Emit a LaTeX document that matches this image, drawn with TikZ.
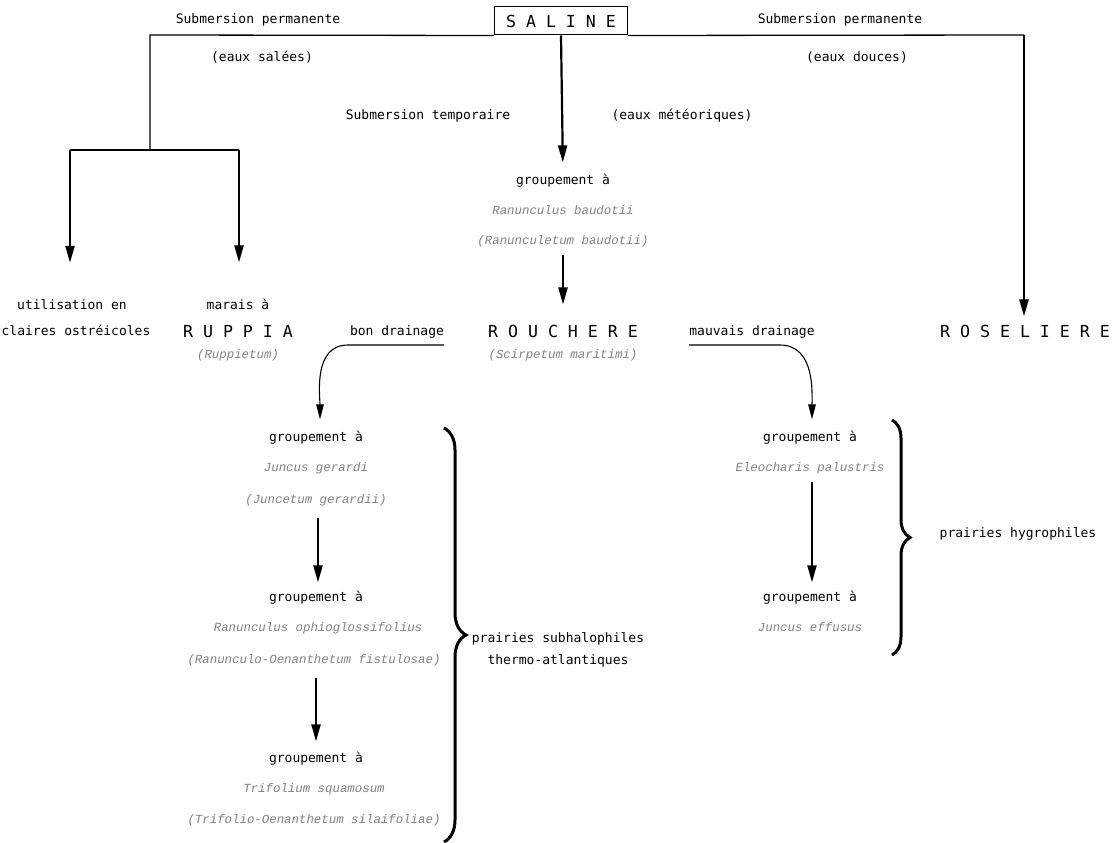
\documentclass[tikz,border=0pt]{standalone}
\usepackage{fontspec}
\usetikzlibrary{arrows.meta,decorations.pathreplacing}
\newfontfamily\typefont{DejaVu Sans Mono}
\newfontfamily\namefont{Liberation Mono}
\definecolor{namegray}{gray}{0.5}

\begin{document}
\begin{tikzpicture}[x=1pt, y=-1pt,
    txt/.style={anchor=base, inner sep=0pt, font=\typefont\fontsize{13}{15}\selectfont},
    taxon/.style={anchor=base, inner sep=0pt, text=namegray, font=\namefont\itshape\fontsize{12.4}{14}\selectfont},
    unit/.style={anchor=base, inner sep=0pt, font=\typefont\fontsize{16.6}{18}\selectfont},
    thinline/.style={line width=1.3pt},
    flow/.style={line width=2.2pt, -{Triangle[length=17pt,width=9pt]}},
    drain/.style={line width=1.1pt, -{Triangle[length=15pt,width=7.5pt]}},
    bracket/.style={decorate, decoration={brace, amplitude=22pt}, line width=3pt}]
  \useasboundingbox (0,0) rectangle (1112,843);
  % top of the scheme
  \node[draw, line width=1pt, minimum width=133pt, minimum height=28pt, inner sep=0pt,
        font=\typefont\fontsize{16.6}{18}\selectfont] (saline) at (561,21) {S A L I N E};
  \node[txt] (subl) at (258,24) {Submersion permanente};
  \node[txt] (salees) at (262,62) {(eaux salées)};
  \node[txt] (subr) at (840,24) {Submersion permanente};
  \node[txt] (douces) at (857,62) {(eaux douces)};
  \node[txt] (temp) at (428,120) {Submersion temporaire};
  \node[txt] (meteo) at (682,120) {(eaux météoriques)};
  \coordinate (jl) at (150,35);
  \coordinate (jr) at (1024,35);
  \coordinate (bl) at (150,150);
  \coordinate (bll) at (70,150);
  \coordinate (blr) at (239,150);
  % middle row
  \node[txt] (grpa) at (563,184) {groupement à};
  \node[taxon] (ranb) at (563,214) {Ranunculus baudotii};
  \node[taxon] (ranbass) at (563,244) {(Ranunculetum baudotii)};
  \node[txt] (util) at (72,309) {utilisation en};
  \node[txt] (claires) at (76,335) {claires ostréicoles};
  \node[txt] (marais) at (238,309) {marais à};
  \node[unit] (ruppia) at (238,337) {R U P P I A};
  \node[taxon] (ruppietum) at (238,358) {(Ruppietum)};
  \node[unit] (rouchere) at (563,337) {R O U C H E R E};
  \node[taxon] (scirpetum) at (563,358) {(Scirpetum maritimi)};
  \node[unit] (roseliere) at (1025,337) {R O S E L I E R E};
  \node[txt] (bon) at (397,335) {bon drainage};
  \node[txt] (mauvais) at (752,335) {mauvais drainage};
  \coordinate (bd) at (348,345);
  \coordinate (md) at (780,345);
  % bon drainage
  \node[txt] (g1) at (316,441) {groupement à};
  \node[taxon] (jg) at (316,471) {Juncus gerardi};
  \node[taxon] (jgass) at (316,503) {(Juncetum gerardii)};
  \node[txt] (g2) at (316,601) {groupement à};
  \node[taxon] (rop) at (318,631) {Ranunculus ophioglossifolius};
  \node[taxon] (ropass) at (314,663) {(Ranunculo-Oenanthetum fistulosae)};
  \node[txt] (g3) at (316,762) {groupement à};
  \node[taxon] (tsq) at (314,792) {Trifolium squamosum};
  \node[taxon] (tsqass) at (314,823) {(Trifolio-Oenanthetum silaifoliae)};
  \node[txt] (subhalo) at (558,642) {prairies subhalophiles};
  \node[txt] (thermo) at (558,664) {thermo-atlantiques};
  % mauvais drainage
  \node[txt] (g4) at (810,441) {groupement à};
  \node[taxon] (elp) at (810,471) {Eleocharis palustris};
  \node[txt] (g5) at (810,601) {groupement à};
  \node[taxon] (jef) at (810,631) {Juncus effusus};
  \node[txt] (hygro) at (1018,537) {prairies hygrophiles};

  \draw[thinline] (bl) -- (jl) -- (saline.south west);
  \draw[thinline] (saline.south east) -- (jr);
  \draw[thinline] (bll) -- (blr);
  \draw[flow, shorten >=36pt] (bll) -- (bll |- util.north);
  \draw[flow, shorten >=36pt] (blr) -- (blr |- marais.north);
  \draw[flow] (jr) -- ([yshift=8pt]jr |- roseliere.north);
  \draw[flow, shorten >=11pt] (saline.south) -- (grpa.north);
  \draw[flow, shorten <=8pt, shorten >=20pt] (ranbass.south) -- (rouchere.north);
  \draw[drain, shorten >=11pt] ([yshift=-7pt]bon.south east) -- (bd) to[out=180, in=90] ([xshift=4pt]g1.north);
  \draw[drain, shorten >=11pt] ([yshift=-7pt]mauvais.south west) -- (md) to[out=0, in=90] ([xshift=2pt]g4.north);
  \draw[flow, shorten <=12pt, shorten >=8pt] ([xshift=2pt]jgass.south) -- ([xshift=2pt]g2.north);
  \draw[flow, shorten <=12pt, shorten >=10pt] ([xshift=2pt]ropass.south) -- ([xshift=0pt]g3.north);
  \draw[flow, shorten <=8pt, shorten >=8pt] ([xshift=2pt]elp.south) -- ([xshift=2pt]g5.north);
  \draw[bracket] (444,428) -- (444,842);
  \draw[bracket, decoration={amplitude=18pt}] (892,420) -- (892,655);
\end{tikzpicture}
\end{document}
